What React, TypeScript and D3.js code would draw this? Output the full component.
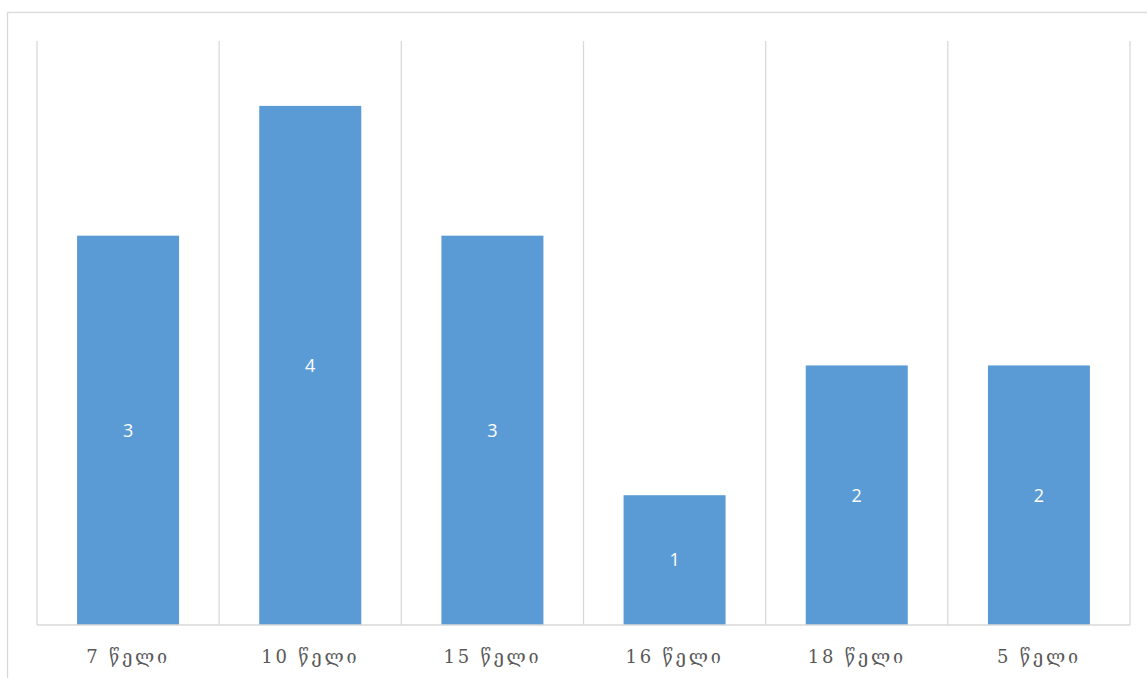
import React from "react";
import * as d3 from "d3";

const categories: string[] = ["7 წელი", "10 წელი", "15 წელი", "16 წელი", "18 წელი", "5 წელი"];
const values: number[] = [3, 4, 3, 1, 2, 2];

const W = 1147;
const H = 678;
const plot = { left: 37, right: 1130, top: 41, bottom: 625 };

export default function App() {
  const x = d3
    .scaleBand<string>()
    .domain(categories)
    .range([plot.left, plot.right])
    .paddingInner(0)
    .paddingOuter(0);
  const y = d3.scaleLinear().domain([0, 4.5]).range([plot.bottom, plot.top]);
  const bw = x.bandwidth() * 0.56;
  const grid = [...categories.map((c) => x(c) as number), plot.right];

  return (
    <svg
      width={W}
      height={H}
      style={{ position: "absolute", left: 0, top: 0, background: "#fff" }}
    >
      <rect x={7.5} y={12.5} width={W + 10} height={H + 10} fill="none" stroke="#d9d9d9" strokeWidth={1.3} />
      {grid.map((gx, i) => (
        <line key={i} x1={gx} x2={gx} y1={plot.top} y2={plot.bottom} stroke="#d9d9d9" strokeWidth={1.3} />
      ))}
      {categories.map((c, i) => {
        const cx = (x(c) as number) + x.bandwidth() / 2;
        const yTop = y(values[i]);
        return (
          <g key={c}>
            <rect x={cx - bw / 2} y={yTop} width={bw} height={plot.bottom - yTop} fill="#5b9bd5" />
            <text
              x={cx}
              y={(yTop + plot.bottom) / 2}
              dy="0.35em"
              textAnchor="middle"
              fill="#ffffff"
              fontFamily="'Open Sans', 'Liberation Sans', sans-serif"
              fontSize={18}
            >
              {values[i]}
            </text>
            <text
              x={cx}
              y={657}
              dy="0.35em"
              textAnchor="middle"
              fill="#595959"
              fontFamily="'DejaVu Serif', serif"
              fontSize={18}
              letterSpacing={2.8}
            >
              {c}
            </text>
          </g>
        );
      })}
      <line x1={plot.left} x2={plot.right} y1={plot.bottom} y2={plot.bottom} stroke="#d9d9d9" strokeWidth={1.3} />
    </svg>
  );
}
